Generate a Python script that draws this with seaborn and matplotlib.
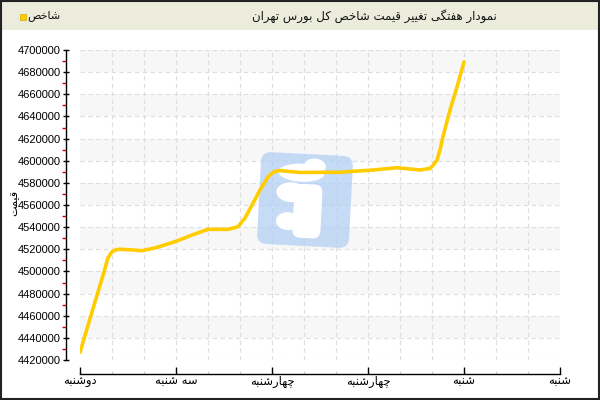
import matplotlib
matplotlib.use("Agg")
import matplotlib.pyplot as plt
import matplotlib.patches as mpatches
import matplotlib.transforms as mtransforms
from matplotlib.ticker import MultipleLocator, FixedLocator
import seaborn as sns
import numpy as np

# ---------------- data ----------------
day_labels = ["دوشنبه", "سه شنبه", "چهارشنبه", "چهارشنبه", "شنبه", "شنبه"]
time_pos = [0.0, 0.156, 0.25, 0.29, 0.33, 0.375, 0.417, 0.521, 0.643, 0.781, 0.99, 1.167,
            1.333, 1.542, 1.646, 1.719, 1.792, 1.875, 1.958, 2.0, 2.031, 2.083, 2.292,
            2.708, 3.052, 3.302, 3.542, 3.646, 3.68, 3.719, 3.75, 3.781, 3.854, 3.927, 4.0]
index_values = [4427000, 4472400, 4499500, 4512000, 4517500, 4519600, 4520000, 4519550,
                4518700, 4521200, 4526900, 4532900, 4538000, 4538000, 4540400, 4548300,
                4560000, 4573600, 4585300, 4588600, 4590300, 4591000, 4589400, 4589600,
                4591600, 4593700, 4591600, 4593000, 4596100, 4600700, 4609700, 4621700,
                4645800, 4666600, 4689200]
series_name = "شاخص"
title_text = "نمودار هفتگی تغییر قیمت شاخص کل بورس تهران"
y_label = "قیمت"

# ---------------- simple Arabic/Persian shaping ----------------
FORMS = {
    'ا': ('\uFE8D', '\uFE8E'), 'د': ('\uFEA9', '\uFEAA'), 'ر': ('\uFEAD', '\uFEAE'),
    'ز': ('\uFEAF', '\uFEB0'), 'و': ('\uFEED', '\uFEEE'),
    'ب': ('\uFE8F', '\uFE90', '\uFE91', '\uFE92'), 'ت': ('\uFE95', '\uFE96', '\uFE97', '\uFE98'),
    'ج': ('\uFE9D', '\uFE9E', '\uFE9F', '\uFEA0'), 'چ': ('\uFB7A', '\uFB7B', '\uFB7C', '\uFB7D'),
    'خ': ('\uFEA5', '\uFEA6', '\uFEA7', '\uFEA8'), 'س': ('\uFEB1', '\uFEB2', '\uFEB3', '\uFEB4'),
    'ش': ('\uFEB5', '\uFEB6', '\uFEB7', '\uFEB8'), 'ص': ('\uFEB9', '\uFEBA', '\uFEBB', '\uFEBC'),
    'غ': ('\uFECD', '\uFECE', '\uFECF', '\uFED0'), 'ف': ('\uFED1', '\uFED2', '\uFED3', '\uFED4'),
    'ق': ('\uFED5', '\uFED6', '\uFED7', '\uFED8'), 'ک': ('\uFB8E', '\uFB8F', '\uFB90', '\uFB91'),
    'گ': ('\uFB92', '\uFB93', '\uFB94', '\uFB95'), 'ل': ('\uFEDD', '\uFEDE', '\uFEDF', '\uFEE0'),
    'م': ('\uFEE1', '\uFEE2', '\uFEE3', '\uFEE4'), 'ن': ('\uFEE5', '\uFEE6', '\uFEE7', '\uFEE8'),
    'ه': ('\uFEE9', '\uFEEA', '\uFEEB', '\uFEEC'), 'ی': ('\uFBFC', '\uFBFD', '\uFBFE', '\uFBFF'),
}


def shape(s):
    out = []
    for i, c in enumerate(s):
        if c not in FORMS:
            out.append(c)
            continue
        prev = s[i - 1] if i > 0 else None
        nxt = s[i + 1] if i + 1 < len(s) else None
        f = FORMS[c]
        jp = prev in FORMS and len(FORMS[prev]) == 4
        jn = len(f) == 4 and nxt in FORMS
        if jp and jn:
            g = f[3]
        elif jp:
            g = f[1]
        elif jn:
            g = f[2]
        else:
            g = f[0]
        out.append(g)
    return ''.join(out)[::-1]


AR = ['DejaVu Sans']
NUM = ['Liberation Sans', 'DejaVu Sans']

# ---------------- figure ----------------
W, H = 600, 400
fig = plt.figure(figsize=(6, 4), dpi=100)
fig.patch.set_facecolor('white')


def fx(px):
    return px / W


def fy(py):
    return 1 - py / H


ax = fig.add_axes([fx(80), fy(360), fx(560) - fx(80), fy(50) - fy(360)])
ax.set_facecolor('white')

ymin, ymax = 4420000, 4700000
xmin, xmax = 0, 5

# alternating bands
for lo in range(4440000, ymax, 40000):
    ax.axhspan(lo, lo + 20000, color='#f7f7f7', lw=0, zorder=0)

# grid
for y in range(ymin, ymax + 1, 20000):
    ax.axhline(y, color='#dedede', lw=0.8, ls=(0, (4, 3)), zorder=0.6)
for i in range(1, 15):
    ax.axvline(i / 3, color='#dedede', lw=0.8, ls=(0, (4, 3)), zorder=0.6)

# watermark logo (display pixel coordinates)
cx, cy = 305, 200
rot = mtransforms.Affine2D().rotate_deg_around(cx, H - cy, -3)
logo = mpatches.FancyBboxPatch((cx - 42, H - cy - 42), 84, 84,
                               boxstyle="round,pad=4,rounding_size=10",
                               transform=rot, facecolor='#b3cff4', edgecolor='none',
                               alpha=0.75, zorder=1.5)
ax.add_artist(logo)
logo.set_clip_on(False)
white_parts = [
    mpatches.Ellipse((300, H - 173), 46, 18),
    mpatches.Ellipse((313, H - 166), 22, 16),
    mpatches.FancyBboxPatch((294, H - 238), 28, 54, boxstyle="round,pad=0,rounding_size=8"),
    mpatches.Ellipse((291, H - 193), 30, 20),
    mpatches.Ellipse((289, H - 222), 24, 18),
]
for p in white_parts:
    p.set_transform(rot)
    p.set_facecolor('white')
    p.set_edgecolor('none')
    p.set_zorder(1.6)
    p.set_clip_on(False)
    ax.add_artist(p)

# data line
sns.lineplot(x=time_pos, y=index_values, ax=ax, color='#ffcc00', lw=2.6, zorder=3,
             legend=False)
for l in ax.lines[-1:]:
    l.set_solid_capstyle('round')
    l.set_solid_joinstyle('round')

ax.set_xlim(xmin, xmax)
ax.set_ylim(ymin, ymax)

# spines
for s in ['top', 'right']:
    ax.spines[s].set_visible(False)
ax.spines['left'].set_position(('outward', 10))
ax.spines['bottom'].set_position(('outward', 10))
for s in ['left', 'bottom']:
    ax.spines[s].set_color('black')
    ax.spines[s].set_linewidth(1.0)

# ticks
ax.yaxis.set_minor_locator(FixedLocator(np.arange(ymin + 10000, ymax, 20000)))
ax.set_yticks(list(range(ymin, ymax + 1, 20000)))
ax.set_yticklabels([str(v) for v in range(ymin, ymax + 1, 20000)], fontfamily=NUM, fontsize=8)
ax.tick_params(axis='y', which='major', direction='inout', length=5, width=1, color='black', pad=1.5)
ax.tick_params(axis='y', which='minor', direction='out', length=3, width=1, color='#dd0000')

ax.set_xticks(range(0, 6))
ax.set_xticklabels([shape(t) for t in day_labels], fontfamily=AR, fontsize=8.3)
ax.xaxis.set_minor_locator(FixedLocator([i / 3 for i in range(15) if i % 3 != 0]))
ax.tick_params(axis='x', which='major', direction='in', length=5, width=1, color='black', pad=1)
ax.tick_params(axis='x', which='minor', direction='in', length=2.5, width=0.8, color='#cccccc')

ax.set_xlabel('')
ax.set_ylabel('')

# y label
fig.text(fx(14), fy(203), shape(y_label), rotation=90, ha='center', va='center',
         fontfamily=AR, fontsize=8)

# title bar
bar = mpatches.Rectangle((0, fy(30)), 1, 1 - fy(30), transform=fig.transFigure,
                         facecolor='#ececdd', edgecolor='none', zorder=0)
fig.patches.append(bar)
fig.text(fx(374), fy(16), shape(title_text), ha='center', va='center',
         fontfamily=AR, fontsize=8.5, color='#111111')
# legend
fig.patches.append(mpatches.Rectangle((fx(20), fy(20)), fx(6), 6 / H, transform=fig.transFigure,
                                      facecolor='#ffcc00', edgecolor='#d9a600', lw=0.5))
fig.text(fx(27), fy(16), shape(series_name), ha='left', va='center',
         fontfamily=AR, fontsize=8, color='#111111')

# outer border
fig.patches.append(mpatches.Rectangle((0.001, 0.002), 0.997, 0.996, transform=fig.transFigure,
                                      facecolor='none', edgecolor='#222222', lw=1.5))

fig.savefig('out.png', dpi=100)
